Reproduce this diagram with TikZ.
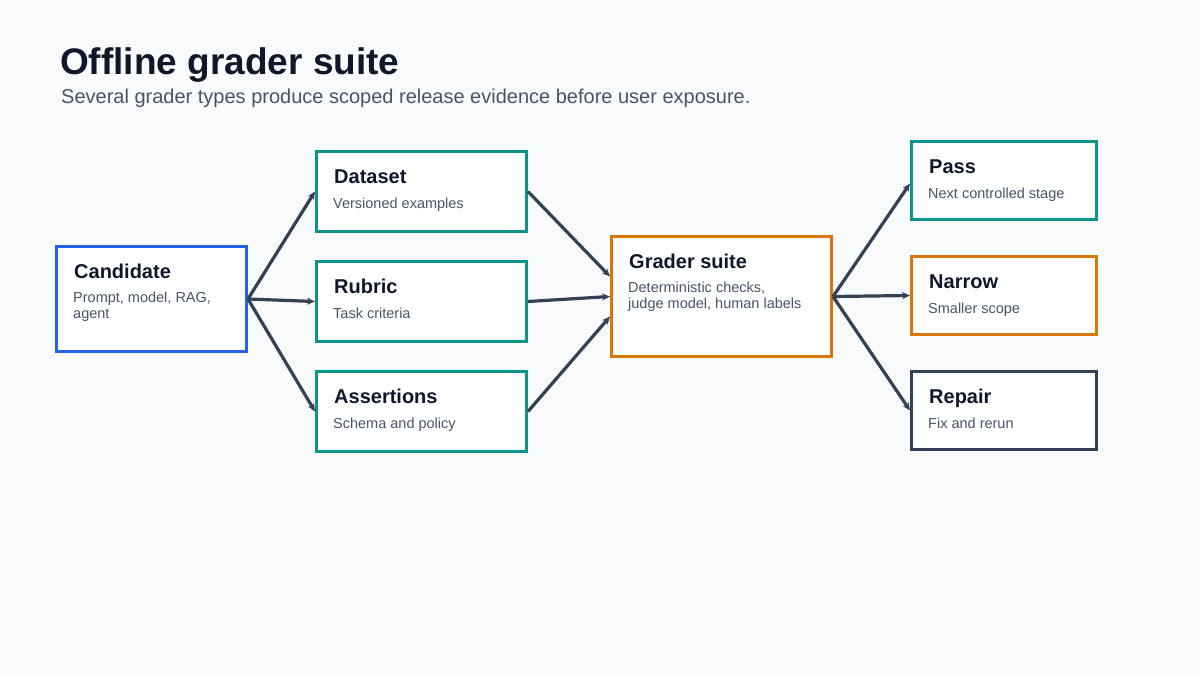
\documentclass[tikz,border=0pt]{standalone}
\usepackage{fontspec}
\setmainfont{Liberation Sans}
\usepackage{xcolor}
\usetikzlibrary{arrows.meta,positioning,calc}

\definecolor{bgc}{HTML}{F8FAFC}
\definecolor{ink}{HTML}{0F172A}
\definecolor{muted}{HTML}{475569}
\definecolor{slate}{HTML}{334155}
\definecolor{bluec}{HTML}{2563EB}
\definecolor{tealc}{HTML}{0D9488}
\definecolor{orangec}{HTML}{D97706}

\begin{document}
\begin{tikzpicture}[x=1pt, y=-1pt,
  card/.style={draw=#1, line width=3pt, fill=white, anchor=north west,
               inner sep=0pt},
  ttl/.style={anchor=base west, inner sep=0pt, text=ink,
              font=\fontsize{20}{24}\selectfont\bfseries},
  sub/.style={anchor=base west, inner sep=0pt, text=muted, align=left,
              font=\fontsize{14.5}{16}\selectfont},
  arr/.style={-{Stealth[length=8pt,width=7pt]}, line width=3.2pt, draw=slate}]
\fill[bgc] (0,0) rectangle (1200,675);
\useasboundingbox (0,0) rectangle (1200,675);
% --- heading ---
\node[anchor=base west, inner sep=0pt, text=ink,
  font=\fontsize{37}{42}\selectfont\bfseries] (head) at (60,74) {Offline grader suite};
\node[anchor=base west, inner sep=0pt, text=muted,
  font=\fontsize{20}{24}\selectfont] (lead) at (61,103)
  {Several grader types produce scoped release evidence before user exposure.};
% --- boxes ---
\node[card=bluec, minimum width=190pt, minimum height=105pt] (cand) at (55,245) {};
\node[card=tealc, minimum width=210pt, minimum height=80pt] (data) at (315,150) {};
\node[card=tealc, minimum width=210pt, minimum height=80pt] (rubr) at (315,260) {};
\node[card=tealc, minimum width=210pt, minimum height=80pt] (asrt) at (315,370) {};
\node[card=orangec, minimum width=220pt, minimum height=120pt] (grad) at (610,235) {};
\node[card=tealc, minimum width=185pt, minimum height=78pt] (pass) at (910,140) {};
\node[card=orangec, minimum width=185pt, minimum height=78pt] (narr) at (910,255) {};
\node[card=slate, minimum width=185pt, minimum height=78pt] (rep) at (910,370) {};
% --- texts (two-line subs sit on their last baseline) ---
\node[ttl] (candT) at ($(cand.north west)+(19,33)$) {Candidate};
\node[sub] (candS) at ($(cand.north west)+(18,73)$) {Prompt, model, RAG,\\agent};
\node[ttl] (dataT) at ($(data.north west)+(19,33)$) {Dataset};
\node[sub] (dataS) at ($(data.north west)+(18,58)$) {Versioned examples};
\node[ttl] (rubrT) at ($(rubr.north west)+(19,33)$) {Rubric};
\node[sub] (rubrS) at ($(rubr.north west)+(18,58)$) {Task criteria};
\node[ttl] (asrtT) at ($(asrt.north west)+(19,33)$) {Assertions};
\node[sub] (asrtS) at ($(asrt.north west)+(18,58)$) {Schema and policy};
\node[ttl] (gradT) at ($(grad.north west)+(19,33)$) {Grader suite};
\node[sub] (gradS) at ($(grad.north west)+(18,73)$) {Deterministic checks,\\judge model, human labels};
\node[ttl] (passT) at ($(pass.north west)+(19,33)$) {Pass};
\node[sub] (passS) at ($(pass.north west)+(18,58)$) {Next controlled stage};
\node[ttl] (narrT) at ($(narr.north west)+(19,33)$) {Narrow};
\node[sub] (narrS) at ($(narr.north west)+(18,58)$) {Smaller scope};
\node[ttl] (repT) at ($(rep.north west)+(19,33)$) {Repair};
\node[sub] (repS) at ($(rep.north west)+(18,58)$) {Fix and rerun};
% --- connectors ---
\draw[arr] (cand.east) -- (data.west);
\draw[arr] (cand.east) -- (rubr.west);
\draw[arr] (cand.east) -- (asrt.west);
\draw[arr] (data.east) -- ($(grad.west)+(0,-20)$);
\draw[arr] (rubr.east) -- (grad.west);
\draw[arr] (asrt.east) -- ($(grad.west)+(0,20)$);
\draw[arr] (grad.east) -- ($(pass.west)+(0,3)$);
\draw[arr] (grad.east) -- (narr.west);
\draw[arr] (grad.east) -- (rep.west);
\end{tikzpicture}
\end{document}
